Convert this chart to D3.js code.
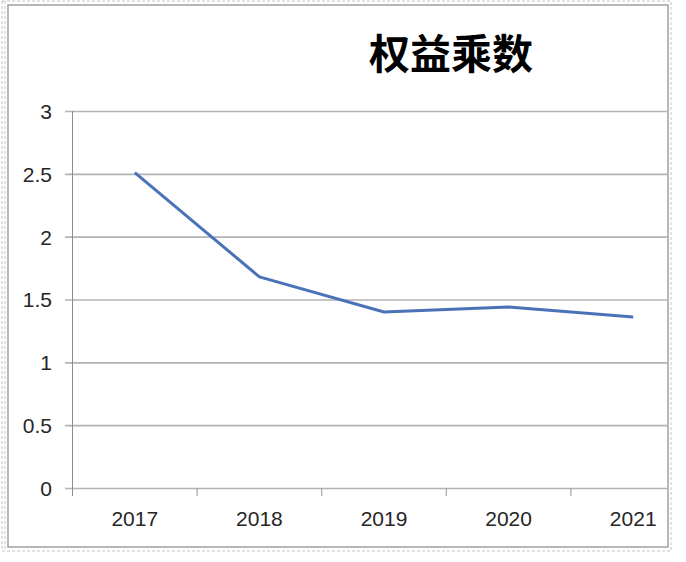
<!DOCTYPE html>
<html>
<head>
<meta charset="utf-8">
<script src="https://cdnjs.cloudflare.com/ajax/libs/d3/7.8.5/d3.min.js"></script>
<style>
  body { margin: 0; background: #fff; }
  .tick text { font-family: "Liberation Sans", Arial, sans-serif; font-size: 21px; fill: #262626; }
  .title { font-family: "Noto Sans CJK SC", sans-serif; font-weight: bold; font-size: 41px; fill: #000; }
</style>
</head>
<body>
<div id="vis"></div>
<script>
var years = ["2017", "2018", "2019", "2020", "2021"];
var multiplier = [2.51, 1.68, 1.40, 1.44, 1.36];
var yTicks = [0, 0.5, 1, 1.5, 2, 2.5, 3];
var title = "权益乘数";

var width = 686, height = 562;
var plot = {left: 72.5, top: 111, bottom: 488, band: 124.6, clipRight: 668};

var svg = d3.select("#vis").append("svg")
  .attr("width", width)
  .attr("height", height);

// frame: dashed outer box and solid inner box
svg.append("rect")
  .attr("x", 2).attr("y", 1)
  .attr("width", 669).attr("height", 550)
  .attr("fill", "none")
  .attr("stroke", "#c4c4c4")
  .attr("stroke-dasharray", "3,2");
svg.append("line")
  .attr("x1", 5).attr("x2", 5).attr("y1", 1).attr("y2", 551)
  .attr("stroke", "#c4c4c4")
  .attr("stroke-dasharray", "3,2");
svg.append("rect")
  .attr("x", 8).attr("y", 5)
  .attr("width", 660).attr("height", 542)
  .attr("fill", "none")
  .attr("stroke", "#a0a0a0")
  .attr("stroke-width", 1.5);

svg.append("defs").append("clipPath")
  .attr("id", "chart-clip")
  .append("rect")
  .attr("x", 0).attr("y", 0)
  .attr("width", plot.clipRight).attr("height", height);

var g = svg.append("g").attr("clip-path", "url(#chart-clip)");

var x = d3.scaleBand()
  .domain(years)
  .range([plot.left, plot.left + plot.band * years.length])
  .paddingInner(0).paddingOuter(0);

var y = d3.scaleLinear()
  .domain([0, 3])
  .range([plot.bottom, plot.top]);

// gridlines (with tick stubs left of the axis)
var yAxis = d3.axisLeft(y)
  .tickValues(yTicks)
  .tickFormat(function(d) { return d; })
  .tickSize(-(plot.left + plot.band * years.length - 65))
  .tickPadding(12);

var yg = g.append("g")
  .attr("transform", "translate(65,0)")
  .call(yAxis);
yg.select(".domain").remove();
yg.selectAll(".tick line")
  .attr("stroke", "#b3b3b3")
  .attr("stroke-width", 1.6);
yg.selectAll(".tick text")
  .attr("x", -13)
  .attr("dy", "0.35em");

// vertical axis line
g.append("line")
  .attr("x1", plot.left).attr("x2", plot.left)
  .attr("y1", plot.top).attr("y2", plot.bottom + 8)
  .attr("stroke", "#8c8c8c")
  .attr("stroke-width", 1);

// category labels
var xg = g.append("g")
  .attr("transform", "translate(0," + plot.bottom + ")")
  .call(d3.axisBottom(x).tickSize(0).tickPadding(23));
xg.select(".domain").remove();
xg.selectAll(".tick text").attr("dy", "0.71em");

// category ticks between bands
g.selectAll(".band-tick")
  .data(years.slice(1))
  .enter()
  .append("line")
  .attr("class", "band-tick")
  .attr("x1", function(d) { return x(d); })
  .attr("x2", function(d) { return x(d); })
  .attr("y1", plot.bottom)
  .attr("y2", plot.bottom + 8)
  .attr("stroke", "#a6a6a6")
  .attr("stroke-width", 1.2);

// series line
var line = d3.line()
  .x(function(d, i) { return x(years[i]) + x.bandwidth() / 2; })
  .y(function(d) { return y(d); });

g.append("path")
  .datum(multiplier)
  .attr("d", line)
  .attr("fill", "none")
  .attr("stroke", "#4a72b8")
  .attr("stroke-width", 3)
  .attr("stroke-linejoin", "round");

svg.append("text")
  .attr("class", "title")
  .attr("x", 451)
  .attr("y", 51)
  .attr("text-anchor", "middle")
  .attr("dominant-baseline", "central")
  .text(title);
</script>
</body>
</html>
